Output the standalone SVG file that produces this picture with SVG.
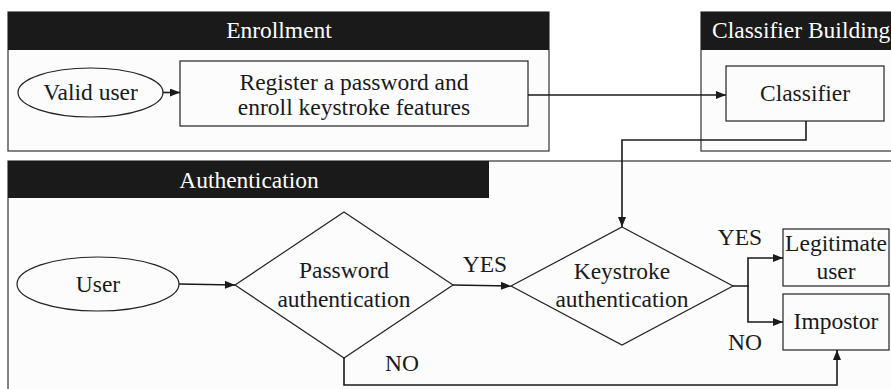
<svg xmlns="http://www.w3.org/2000/svg" width="891" height="389" viewBox="0 0 891 389">
  <defs>
    <marker id="arrow" viewBox="0 0 10 8" refX="10" refY="4" markerWidth="11" markerHeight="8" markerUnits="userSpaceOnUse" orient="auto">
      <path d="M0,0 L10,4 L0,8 Z" fill="#1a1a1a"/>
    </marker>
  </defs>
  <style>
    .hdr { fill: #1a1a1a; }
    .panel { fill: #fcfcfc; stroke: #333; stroke-width: 1.2; }
    .shape { fill: #fcfcfc; stroke: #222; stroke-width: 1.2; }
    .conn { fill: none; stroke: #1a1a1a; stroke-width: 1.6; }
  </style>
  <rect width="891" height="389" fill="#ffffff"/>

  <g font-family="Liberation Serif" font-size="23.5" fill="#1a1a1a" text-anchor="middle">
    <!-- Enrollment panel -->
    <g id="enrollment">
      <rect class="panel" x="8" y="12" width="541" height="139"/>
      <rect class="hdr" x="8" y="12" width="541" height="38"/>
      <text x="279" y="38" fill="#ffffff">Enrollment</text>
    </g>

    <!-- Classifier Building panel -->
    <g id="classifier-building">
      <rect class="panel" x="701" y="12" width="200" height="139"/>
      <rect class="hdr" x="701" y="12" width="200" height="38"/>
      <text x="712" y="38" fill="#ffffff" text-anchor="start">Classifier Building</text>
    </g>

    <!-- Authentication panel -->
    <g id="authentication">
      <rect class="panel" x="8" y="161" width="900" height="240"/>
      <rect class="hdr" x="8" y="161" width="481" height="37"/>
      <text x="249" y="188" fill="#ffffff">Authentication</text>
    </g>

    <g id="valid-user">
      <ellipse class="shape" cx="90.5" cy="92.5" rx="72.5" ry="24.5"/>
      <text x="90.5" y="100">Valid user</text>
    </g>

    <g id="register">
      <rect class="shape" x="180" y="61" width="348" height="65"/>
      <text x="354" y="90">Register a password and</text>
      <text x="354" y="115">enroll keystroke features</text>
    </g>

    <g id="classifier">
      <rect class="shape" x="726" y="66" width="158" height="55"/>
      <text x="805" y="101">Classifier</text>
    </g>

    <g id="user">
      <ellipse class="shape" cx="98" cy="284" rx="81" ry="27"/>
      <text x="98" y="292">User</text>
    </g>

    <g id="password-auth">
      <polygon class="shape" points="344,212 453,285 344,358 235,285"/>
      <text x="344" y="278">Password</text>
      <text x="344" y="307">authentication</text>
    </g>

    <g id="keystroke-auth">
      <polygon class="shape" points="622,227 733,286 622,345 511,286"/>
      <text x="622" y="279">Keystroke</text>
      <text x="622" y="307">authentication</text>
    </g>

    <g id="legitimate-user">
      <rect class="shape" x="783" y="229" width="106" height="57"/>
      <text x="836" y="251">Legitimate</text>
      <text x="836" y="279">user</text>
    </g>

    <g id="impostor">
      <rect class="shape" x="783" y="294" width="106" height="56"/>
      <text x="836" y="329">Impostor</text>
    </g>

    <g id="connectors">
      <path class="conn" d="M163,92.5 L180,92.5" marker-end="url(#arrow)"/>
      <path class="conn" d="M528,95 L726,95" marker-end="url(#arrow)"/>
      <path class="conn" d="M806,121 L806,140 L622,140 L622,227" marker-end="url(#arrow)"/>
      <path class="conn" d="M179,284 L235,285" marker-end="url(#arrow)"/>
      <path class="conn" d="M453,285 L511,286" marker-end="url(#arrow)"/>
      <path class="conn" d="M733,286 L748,286 L748,258 L783,258" marker-end="url(#arrow)"/>
      <path class="conn" d="M748,286 L748,322 L783,322" marker-end="url(#arrow)"/>
      <path class="conn" d="M344,358 L344,385 L837,385 L837,350" marker-end="url(#arrow)"/>
      <text x="485" y="272">YES</text>
      <text x="402" y="371">NO</text>
      <text x="740" y="245">YES</text>
      <text x="745" y="350">NO</text>
    </g>
  </g>
</svg>
